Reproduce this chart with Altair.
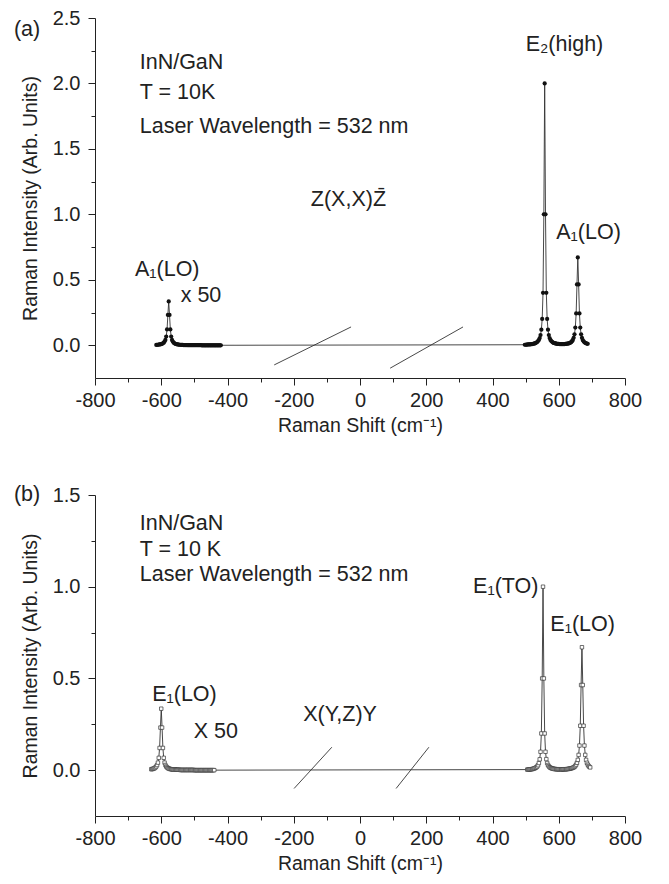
import altair as alt
import pandas as pd

FONT = "Liberation Sans"
STEP = 2.5  # sampling step of the spectra (cm-1)

# ---------------- panel (a): Z(X,X)Z-bar ----------------
a_left_start = -615.0
a_left_y = [0.003, 0.004, 0.004, 0.005, 0.006, 0.007, 0.009, 0.011, 0.015, 0.020,
            0.028, 0.041, 0.067, 0.121, 0.232, 0.335, 0.232, 0.121, 0.067, 0.041,
            0.028, 0.020, 0.015, 0.011, 0.009, 0.007, 0.006, 0.005, 0.004, 0.004,
            0.003, 0.003, 0.003, 0.002, 0.002, 0.002, 0.002, 0.002, 0.001, 0.001,
            0.001, 0.001, 0.001, 0.001, 0.001, 0.001, 0.001, 0.001, 0.001, 0.001,
            0.001, 0.001, 0.001, 0.001, 0.001, 0.000, 0.000, 0.000, 0.000, 0.000,
            0.000, 0.000, 0.000, 0.000, 0.000, 0.000, 0.000, 0.000, 0.000, 0.000,
            0.000, 0.000, 0.000, 0.000, 0.000, 0.000, 0.000, 0.000, 0.000]
a_right_start = 497.5
a_right_y = [0.004, 0.004, 0.005, 0.005, 0.006, 0.006, 0.007, 0.007, 0.008, 0.009,
             0.011, 0.012, 0.014, 0.017, 0.021, 0.025, 0.032, 0.041, 0.055, 0.078,
             0.119, 0.201, 0.401, 1.000, 2.000, 1.000, 0.401, 0.201, 0.119, 0.078,
             0.055, 0.041, 0.032, 0.026, 0.021, 0.018, 0.016, 0.014, 0.012, 0.011,
             0.010, 0.010, 0.009, 0.009, 0.009, 0.009, 0.009, 0.009, 0.009, 0.010,
             0.011, 0.012, 0.013, 0.014, 0.017, 0.020, 0.024, 0.031, 0.041, 0.057,
             0.084, 0.135, 0.243, 0.465, 0.671, 0.465, 0.243, 0.135, 0.084, 0.057,
             0.040, 0.030, 0.023, 0.019, 0.015, 0.013, 0.011]

# ---------------- panel (b): X(Y,Z)Y ----------------
b_left_start = -630.0
b_left_y = [0.005, 0.006, 0.007, 0.009, 0.011, 0.015, 0.020, 0.028, 0.041, 0.067,
            0.121, 0.232, 0.335, 0.232, 0.121, 0.067, 0.041, 0.028, 0.020, 0.015,
            0.011, 0.009, 0.007, 0.006, 0.005, 0.004, 0.004, 0.003, 0.003, 0.003,
            0.002, 0.002, 0.002, 0.002, 0.002, 0.001, 0.001, 0.001, 0.001, 0.001,
            0.001, 0.001, 0.001, 0.001, 0.001, 0.001, 0.001, 0.001, 0.001, 0.001,
            0.001, 0.001, 0.000, 0.000, 0.000, 0.000, 0.000, 0.000, 0.000, 0.000,
            0.000, 0.000, 0.000, 0.000, 0.000, 0.000, 0.000, 0.000, 0.000, 0.000,
            0.000, 0.000, 0.000, 0.000, 0.000, 0.000, 0.000]
b_right_start = 505.0
b_right_y = [0.003, 0.003, 0.004, 0.004, 0.005, 0.005, 0.006, 0.007, 0.009, 0.010,
             0.013, 0.016, 0.020, 0.027, 0.039, 0.059, 0.100, 0.200, 0.500, 1.000,
             0.500, 0.200, 0.100, 0.060, 0.039, 0.028, 0.021, 0.016, 0.013, 0.011,
             0.009, 0.008, 0.007, 0.006, 0.006, 0.005, 0.005, 0.005, 0.005, 0.005,
             0.004, 0.004, 0.004, 0.005, 0.005, 0.005, 0.005, 0.005, 0.006, 0.006,
             0.007, 0.008, 0.009, 0.010, 0.011, 0.013, 0.015, 0.018, 0.023, 0.030,
             0.040, 0.056, 0.083, 0.134, 0.242, 0.464, 0.670, 0.464, 0.242, 0.134,
             0.083, 0.056, 0.040, 0.030, 0.023, 0.018, 0.015]

# ---------------- ticks ----------------
x_ticks = [-800, -700, -600, -500, -400, -300, -200, -100, 0, 100, 200, 300, 400, 500, 600, 700, 800]
a_y_ticks = [0, 0.25, 0.5, 0.75, 1.0, 1.25, 1.5, 1.75, 2.0, 2.25, 2.5]
b_y_ticks = [0, 0.25, 0.5, 0.75, 1.0, 1.25, 1.5]

# ---------------- annotations ----------------
a_left_text = ["InN/GaN", "T = 10K", "Laser Wavelength = 532 nm", "E\u2082(high)"]
a_left_tx = [-665, -665, -665, 500]
a_left_ty = [2.16, 1.93, 1.67, 2.29]
a_ctr_text = ["(a)", "A\u2081(LO)", "A\u2081(LO)", "x 50", "Z(X,X)Z\u0304"]
a_ctr_tx = [-1005, 690, -582, -480, -35]
a_ctr_ty = [2.41, 0.855, 0.575, 0.38, 1.11]
a_slash_x = [-259, 91]
a_slash_x2 = [-27, 311]
a_slash_y = [-0.15, -0.175]
a_slash_y2 = [0.14, 0.14]

b_left_text = ["InN/GaN", "T = 10 K", "Laser Wavelength = 532 nm"]
b_left_tx = [-665, -665, -665]
b_left_ty = [1.34, 1.20, 1.065]
b_ctr_text = ["(b)", "E\u2081(TO)", "E\u2081(LO)", "E\u2081(LO)", "X 50", "X(Y,Z)Y"]
b_ctr_tx = [-1005, 440, 672, -530, -435, -60]
b_ctr_ty = [1.5, 1.0, 0.79, 0.41, 0.21, 0.30]
b_slash_x = [-199, 109]
b_slash_x2 = [-85, 208]
b_slash_y = [-0.10, -0.10]
b_slash_y2 = [0.125, 0.125]

INK = "#222222"
ANN = 21.5


def panel(left_start, left_y, right_start, right_y, ydom, yticks, height,
          ltxt, ltx, lty, ctxt, ctx, cty, sx, sx2, sy, sy2, filled):
    xs = [left_start + STEP * i for i in range(len(left_y))] + \
         [right_start + STEP * i for i in range(len(right_y))]
    df = pd.DataFrame({"x": xs, "y": list(left_y) + list(right_y)})

    xscale = alt.Scale(domain=[-800, 800], nice=False, zero=False)
    yscale = alt.Scale(domain=ydom, nice=False, zero=False)
    xaxis = alt.Axis(values=x_ticks, title="Raman Shift (cm\u207b\u00b9)", grid=False,
                     labelExpr="datum.value % 200 === 0 ? toString(datum.value) : ''",
                     tickSize={"condition": {"test": "datum.value % 200 === 0", "value": 7}, "value": 4},
                     labelFlush=False, labelOverlap=False, labelPadding=5, titlePadding=6)
    yaxis = alt.Axis(values=yticks, title="Raman Intensity (Arb. Units)", grid=False,
                     labelExpr="datum.value % 0.5 === 0 ? format(datum.value, '.1f') : ''",
                     tickSize={"condition": {"test": "datum.value % 0.5 === 0", "value": 7}, "value": 4},
                     labelFlush=False, labelOverlap=False, labelPadding=8, titlePadding=12)
    X = alt.X("x:Q", scale=xscale, axis=xaxis)
    Y = alt.Y("y:Q", scale=yscale, axis=yaxis)

    line = alt.Chart(df).mark_line(color="#333333", strokeWidth=0.9).encode(x=X, y=Y)
    if filled:
        pts = alt.Chart(df).mark_point(shape="circle", filled=True, size=18, color="#111111",
                                       opacity=1).encode(x=X, y=Y)
    else:
        pts = alt.Chart(df).mark_point(shape="square", filled=False, fill="white", size=12,
                                       stroke="#333333", strokeWidth=0.7, opacity=1).encode(x=X, y=Y)

    tl = alt.Chart(pd.DataFrame({"x": ltx, "y": lty, "t": ltxt})).mark_text(
        align="left", baseline="middle", font=FONT, fontSize=ANN, color=INK).encode(x=X, y=Y, text="t:N")
    tc = alt.Chart(pd.DataFrame({"x": ctx, "y": cty, "t": ctxt})).mark_text(
        align="center", baseline="middle", font=FONT, fontSize=ANN, color=INK).encode(x=X, y=Y, text="t:N")
    sl = alt.Chart(pd.DataFrame({"x": sx, "x2": sx2, "y": sy, "y2": sy2})).mark_rule(
        color="#333333", strokeWidth=0.9).encode(x=X, x2="x2:Q", y=Y, y2="y2:Q")

    return alt.layer(line, pts, sl, tl, tc).properties(width=530, height=height)


pa = panel(a_left_start, a_left_y, a_right_start, a_right_y, [-0.25, 2.5], a_y_ticks, 360,
           a_left_text, a_left_tx, a_left_ty, a_ctr_text, a_ctr_tx, a_ctr_ty,
           a_slash_x, a_slash_x2, a_slash_y, a_slash_y2, True)
pb = panel(b_left_start, b_left_y, b_right_start, b_right_y, [-0.25, 1.5], b_y_ticks, 321,
           b_left_text, b_left_tx, b_left_ty, b_ctr_text, b_ctr_tx, b_ctr_ty,
           b_slash_x, b_slash_x2, b_slash_y, b_slash_y2, False)

chart = alt.vconcat(pa, pb, spacing=49).properties(
    padding={"left": 5, "top": 0, "right": 5, "bottom": 5}
).configure_view(stroke=None).configure_axis(
    domainColor=INK, tickColor=INK, labelColor=INK, titleColor=INK,
    labelFont=FONT, titleFont=FONT, labelFontSize=20, titleFontSize=19.5,
    titleFontWeight="normal", domainWidth=1, tickWidth=1
)

chart.save("out.html", embed_options={"renderer": "svg", "actions": False})
